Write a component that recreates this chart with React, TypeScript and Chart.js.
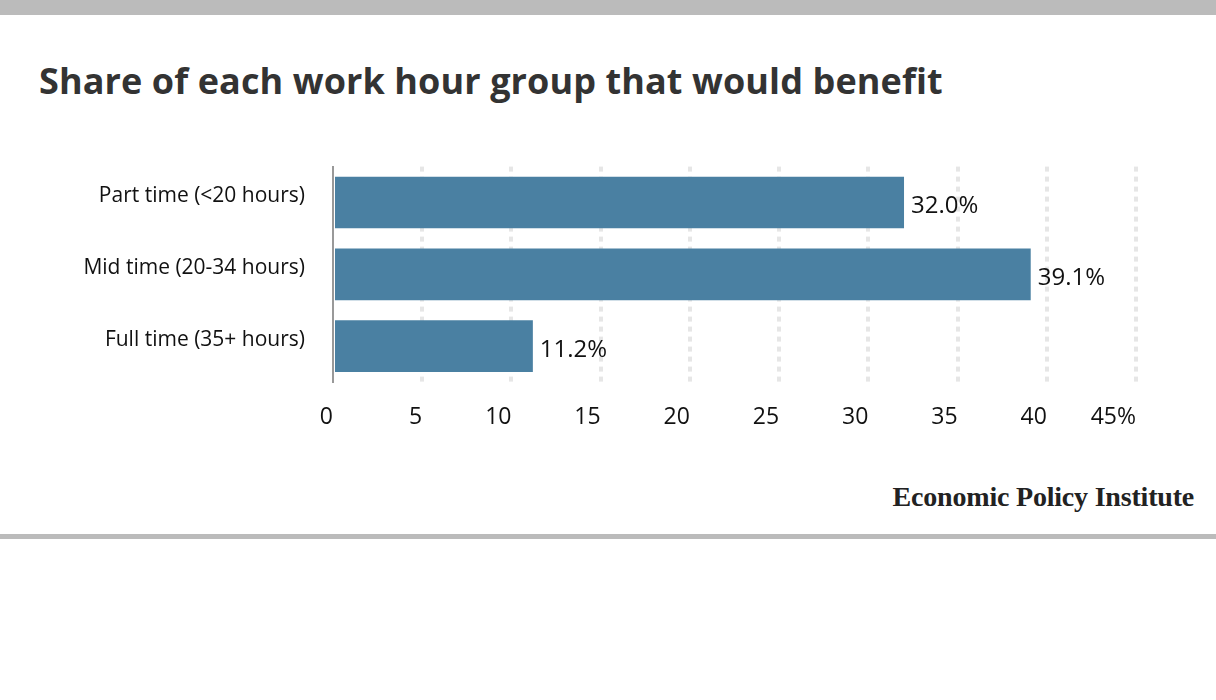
import React, { useEffect, useRef } from "react";
import { Chart, registerables } from "chart.js";
Chart.register(...registerables);

const categories = ["Part time (<20 hours)", "Mid time (20-34 hours)", "Full time (35+ hours)"];
const values = [32.0, 39.1, 11.2];
const tickValues = [0, 5, 10, 15, 20, 25, 30, 35, 40, 45];
const FONT = "'Open Sans', Lato, sans-serif";

const labelPlugin = {
  id: "barLabels",
  afterDatasetsDraw(chart: any) {
    const ctx = chart.ctx;
    const meta = chart.getDatasetMeta(0);
    ctx.save();
    ctx.font = `24px ${FONT}`;
    ctx.fillStyle = "#111";
    ctx.textAlign = "left";
    ctx.textBaseline = "middle";
    meta.data.forEach((el: any, i: number) => {
      ctx.fillText(values[i].toFixed(1) + "%", el.x + 7, el.y + 4);
    });
    ctx.restore();
  },
};

export default function App() {
  const ref = useRef<HTMLCanvasElement>(null);
  useEffect(() => {
    document.body.style.margin = "0";
    const chart = new Chart(ref.current!, {
      type: "bar",
      data: {
        labels: categories,
        datasets: [{ data: values, backgroundColor: "#4a80a2", barPercentage: 0.72, categoryPercentage: 1 }],
      },
      options: {
        indexAxis: "y",
        animation: false,
        responsive: false,
        layout: { padding: { top: 12, right: 80, left: 0, bottom: 0 } },
        plugins: { legend: { display: false }, tooltip: { enabled: false } },
        scales: {
          x: {
            min: 0,
            max: 45,
            afterBuildTicks: (s: any) => { s.ticks = tickValues.map((v) => ({ value: v })); },
            afterFit: (s: any) => { s.height = 60; },
            border: { display: false, dash: [5, 5] },
            grid: {
              drawTicks: false,
              lineWidth: 4,
              color: (c: any) => (c.index === 0 ? "rgba(0,0,0,0)" : "#e6e6e6"),
            },
            ticks: {
              align: "end",
              padding: 22,
              color: "#111",
              font: { family: FONT, size: 23 },
              callback: (v: any) => (v === 45 ? "45%" : String(v)),
            },
          },
          y: {
            afterFit: (s: any) => { s.width = 333; },
            border: { display: true, color: "#999", width: 2 },
            grid: { display: false, drawTicks: false },
            ticks: { padding: 28, labelOffset: -6, color: "#111", font: { family: FONT, size: 21 } },
          },
        },
      },
      plugins: [labelPlugin],
    } as any);
    return () => chart.destroy();
  }, []);

  return (
    <div style={{ position: "absolute", left: 0, top: 0, width: 1216, height: 700, background: "#fff", fontFamily: FONT }}>
      <div style={{ position: "absolute", left: 39, top: 0, width: 0, height: 0 }} />
      <div style={{ position: "absolute", left: 0, top: 0, width: 1216, height: 15, background: "#bbb" }} />
      <div style={{ position: "absolute", left: 39, top: 56, fontSize: 36, fontWeight: 700, color: "#333", whiteSpace: "nowrap", letterSpacing: 0.1 }}>
        Share of each work hour group that would benefit
      </div>
      <canvas ref={ref} width={1216} height={316} style={{ position: "absolute", left: 0, top: 126, width: 1216, height: 316 }} />
      <div style={{ position: "absolute", right: 22, top: 481, fontFamily: "'Liberation Serif', serif", fontWeight: 700, fontSize: 28, color: "#222", letterSpacing: -0.2 }}>
        Economic Policy Institute
      </div>
      <div style={{ position: "absolute", left: 0, top: 534, width: 1216, height: 5, background: "#bbb" }} />
    </div>
  );
}
